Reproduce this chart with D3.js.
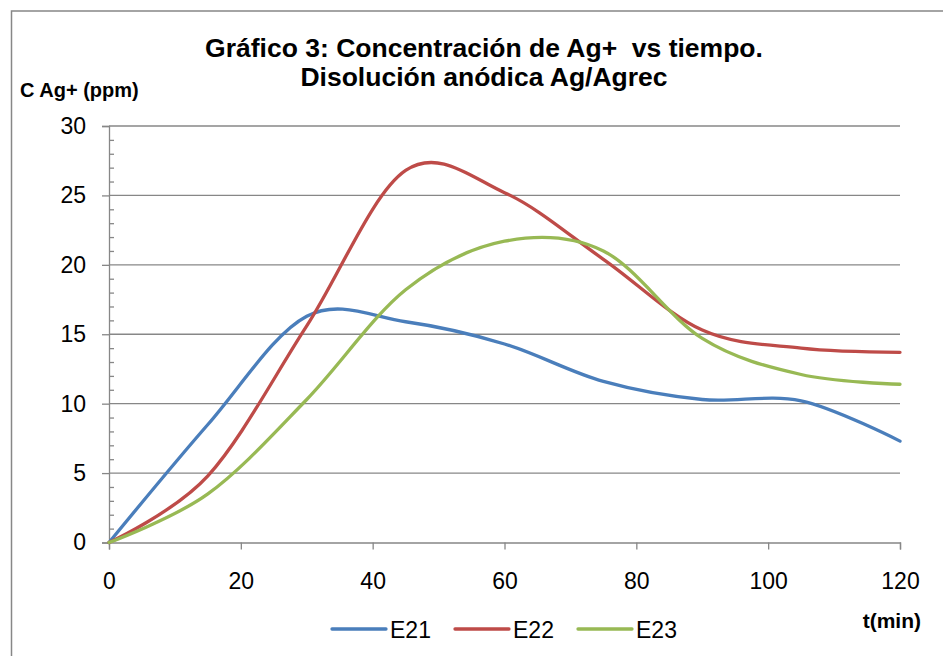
<!DOCTYPE html>
<html>
<head>
<meta charset="utf-8">
<script src="https://cdn.jsdelivr.net/npm/d3@7"></script>
<style>
  body { margin: 0; background: #fff; }
  svg { display: block; font-family: Arial, "Liberation Sans", sans-serif; }
</style>
</head>
<body>
<svg id="chart" width="943" height="656"></svg>
<script>
// data (t in min, C in ppm)
var tiempo = [0, 15, 30, 45, 60, 75, 90, 105, 120];
var e21 = [0, 8.5, 16.3, 15.9, 14.3, 11.6, 10.3, 10.2, 7.3];
var e22 = [0, 4.8, 15.6, 26.8, 25.2, 20.4, 15.3, 14.0, 13.7];
var e23 = [0, 3.5, 10.3, 18.2, 21.7, 21.0, 14.7, 12.1, 11.4];
var seriesNames = ["E21", "E22", "E23"];
var seriesColors = ["#4a7ebb", "#be4b48", "#98b954"];
var xTicks = [0, 20, 40, 60, 80, 100, 120];
var yTicks = [0, 5, 10, 15, 20, 25, 30];

var svg = d3.select("#chart");
var W = 943, H = 656;
var margin = {left: 109, right: 43, top: 126, bottom: 113.5};
var w = W - margin.left - margin.right;
var h = H - margin.top - margin.bottom;
var gris = "#878787";

// chart frame (right and bottom edges fall outside the picture)
svg.append("rect")
    .attr("x", 11.5).attr("y", 11)
    .attr("width", W).attr("height", H)
    .attr("fill", "none")
    .attr("stroke", gris)
    .attr("stroke-width", 1.5);

var x = d3.scaleLinear().domain([0, 120]).range([0, w]);
var y = d3.scaleLinear().domain([0, 30]).range([h, 0]);

var g = svg.append("g")
    .attr("transform", `translate(${margin.left},${margin.top})`);

// horizontal grid
g.append("g")
    .selectAll("line")
    .data(yTicks.filter(function(d){ return d > 0; }))
    .enter()
    .append("line")
    .attr("x1", 0).attr("x2", w)
    .attr("y1", function(d){ return y(d); })
    .attr("y2", function(d){ return y(d); })
    .attr("stroke", gris)
    .attr("stroke-width", 1.3);

// y axis, minor ticks point inward
var yAxis = g.append("g")
    .call(d3.axisLeft(y).tickValues(yTicks).tickSize(7).tickPadding(16));
var yMinor = g.append("g")
    .call(d3.axisRight(y).tickValues(d3.range(0, 31, 1).filter(function(d){ return d % 5 != 0; }))
        .tickSize(5).tickFormat(""));
yMinor.select(".domain").remove();

// x axis
var xAxis = g.append("g")
    .attr("transform", `translate(0,${h})`)
    .call(d3.axisBottom(x).tickValues(xTicks).tickSize(7).tickPadding(23));

[yAxis, yMinor, xAxis].forEach(function(a){
    a.selectAll("line").attr("stroke", gris).attr("stroke-width", 1.3);
    a.select(".domain").attr("stroke", gris).attr("stroke-width", 1.3);
    a.selectAll("text")
        .attr("fill", "#000")
        .style("font-size", "23px")
        .style("font-family", "Arial, 'Liberation Sans', sans-serif");
});

// series
var allSeries = [e21, e22, e23];
var line = d3.line()
    .x(function(d, i){ return x(tiempo[i]); })
    .y(function(d){ return y(d); })
    .curve(d3.curveCardinal.tension(0));

g.selectAll(".serie")
    .data(allSeries)
    .enter()
    .append("path")
    .attr("class", "serie")
    .attr("d", line)
    .attr("fill", "none")
    .attr("stroke", function(d, i){ return seriesColors[i]; })
    .attr("stroke-width", 3.3)
    .attr("stroke-linecap", "round");

// titles
svg.append("text")
    .attr("x", 484).attr("y", 57)
    .attr("text-anchor", "middle")
    .attr("font-weight", "bold")
    .attr("font-size", "26.5px")
    .style("white-space", "pre")
    .text("Gráfico 3: Concentración de Ag+  vs tiempo.");
svg.append("text")
    .attr("x", 484).attr("y", 86)
    .attr("text-anchor", "middle")
    .attr("font-weight", "bold")
    .attr("font-size", "26.5px")
    .text("Disolución anódica Ag/Agrec");

svg.append("text")
    .attr("x", 20).attr("y", 97)
    .attr("font-weight", "bold")
    .attr("font-size", "20px")
    .text("C Ag+ (ppm)");

svg.append("text")
    .attr("x", 921).attr("y", 628)
    .attr("text-anchor", "end")
    .attr("font-weight", "bold")
    .attr("font-size", "21px")
    .text("t(min)");

// legend
var legend = svg.append("g")
    .selectAll("g")
    .data(seriesNames)
    .enter()
    .append("g")
    .attr("transform", function(d, i){ return `translate(${332 + i * 123},629)`; });
legend.append("line")
    .attr("x1", 0).attr("x2", 54)
    .attr("y1", 0).attr("y2", 0)
    .attr("stroke", function(d, i){ return seriesColors[i]; })
    .attr("stroke-width", 3.3)
    .attr("stroke-linecap", "round");
legend.append("text")
    .attr("x", 58).attr("y", 9)
    .attr("font-size", "23px")
    .text(function(d){ return d; });
</script>
</body>
</html>
